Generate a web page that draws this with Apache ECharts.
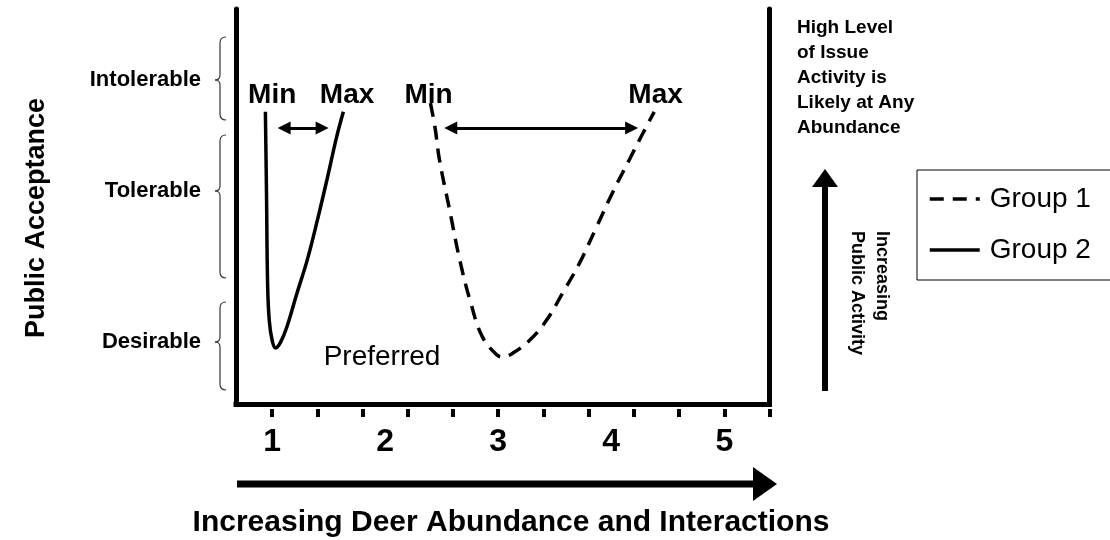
<!DOCTYPE html>
<html>
<head>
<meta charset="utf-8">
<script src="https://cdn.jsdelivr.net/npm/echarts@6/dist/echarts.min.js"></script>
<style>
  html, body { margin: 0; padding: 0; background: #fff; }
  #chart { width: 1110px; height: 540px; }
</style>
</head>
<body>
<div id="chart"></div>
<script>
var FONT = '"Liberation Sans", Arial, Helvetica, sans-serif';

// x = deer abundance (axis units), y = public acceptance (0 = bottom, 100 = top)
var group1 = [
    [2.40, 76.2], [2.44, 70.2], [2.48, 61.9], [2.57, 49.2], [2.66, 36.5],
    [2.75, 26.4], [2.86, 17.1], [2.99, 12.5], [3.04, 12.0], [3.13, 13.0],
    [3.28, 16.3], [3.43, 21.4], [3.57, 28.2], [3.72, 35.8], [3.87, 44.9],
    [4.01, 53.5], [4.16, 61.9], [4.28, 68.6], [4.38, 74.0]
];
var group2 = [
    [0.94, 74.0], [0.95, 53.0], [0.96, 30.0], [0.975, 21.0], [1.0, 16.2],
    [1.03, 14.3], [1.07, 15.5], [1.13, 19.6], [1.22, 28.2], [1.31, 36.5],
    [1.40, 46.6], [1.49, 57.5], [1.57, 67.6], [1.63, 74.0]
];

var tickValues = [1, 1.4, 1.8, 2.2, 2.6, 3, 3.4, 3.8, 4.2, 4.6, 5, 5.4];
var labelValues = [1, 2, 3, 4, 5];

// range arrows between Min and Max: [from, to, level]
var group1Range = [2.58, 4.18, 69.9];
var group2Range = [1.106, 1.442, 69.9];
var group1Labels = [['Min', 2.383, 78.2], ['Max', 4.392, 78.2]];
var group2Labels = [['Min', 1.0, 78.2], ['Max', 1.663, 78.2]];
var preferred = ['Preferred', 1.972, 12.0];

var acceptance = [['Intolerable', 37, 120, 80], ['Tolerable', 135, 278, 191], ['Desirable', 302, 390, 342]];
var issueText = 'High Level\nof Issue\nActivity is\nLikely at Any\nAbundance';

function rangeLine(r) {
    return {
        silent: true,
        symbol: ['triangle', 'triangle'],
        symbolSize: [13, 13],
        label: { show: false },
        lineStyle: { color: '#000', width: 3, type: 'solid' },
        emphasis: { disabled: true },
        data: [[{ coord: [r[0], r[2]] }, { coord: [r[1], r[2]] }]]
    };
}

function textPoints(list) {
    return {
        silent: true,
        symbol: 'rect',
        symbolSize: 1,
        itemStyle: { color: 'rgba(0,0,0,0)' },
        label: {
            show: true, position: 'inside', formatter: '{b}', color: '#000',
            fontFamily: FONT, fontSize: 28, fontWeight: 'bold'
        },
        data: list.map(function (d) {
            var item = { name: d[0], coord: [d[1], d[2]] };
            if (d[0] === 'Preferred') {
                item.label = { fontWeight: 'normal', fontSize: 28 };
            }
            return item;
        })
    };
}

// curly brace "{" made of curves and straight pieces
function brace(y0, y1, ym) {
    var x = 220, st = { fill: null, stroke: '#333', lineWidth: 1.2 };
    var parts = [
        { type: 'bezierCurve', shape: { x1: x + 6, y1: y0, cpx1: x, cpy1: y0, x2: x, y2: y0 + 6 } },
        { type: 'line', shape: { x1: x, y1: y0 + 6, x2: x, y2: ym - 5 } },
        { type: 'bezierCurve', shape: { x1: x, y1: ym - 5, cpx1: x, cpy1: ym, x2: x - 5, y2: ym } },
        { type: 'bezierCurve', shape: { x1: x - 5, y1: ym, cpx1: x, cpy1: ym, x2: x, y2: ym + 5 } },
        { type: 'line', shape: { x1: x, y1: ym + 5, x2: x, y2: y1 - 6 } },
        { type: 'bezierCurve', shape: { x1: x, y1: y1 - 6, cpx1: x, cpy1: y1, x2: x + 6, y2: y1 } }
    ];
    parts.forEach(function (p) { p.style = st; p.silent = true; });
    return { type: 'group', children: parts };
}

var graphics = [];
acceptance.forEach(function (a) {
    graphics.push(brace(a[1], a[2], a[3]));
    graphics.push({
        type: 'text', x: 201, y: a[3], silent: true,
        style: { text: a[0], fill: '#000', font: 'bold 22px ' + FONT, textAlign: 'right', textVerticalAlign: 'middle' }
    });
});
graphics.push(
    {
        type: 'text', x: 37, y: 218, rotation: Math.PI / 2, silent: true,
        style: { text: 'Public Acceptance', fill: '#000', font: 'bold 27px ' + FONT, textAlign: 'center', textVerticalAlign: 'middle' }
    },
    {
        type: 'text', x: 797, y: 15, silent: true,
        style: { text: issueText, fill: '#000', font: 'bold 19px ' + FONT, lineHeight: 25, textAlign: 'left', textVerticalAlign: 'top' }
    },
    {
        type: 'line', silent: true,
        shape: { x1: 825, y1: 391, x2: 825, y2: 184 },
        style: { stroke: '#000', lineWidth: 6 }
    },
    {
        type: 'polygon', silent: true,
        shape: { points: [[812, 187], [825, 169], [838, 187]] },
        style: { fill: '#000' }
    },
    {
        type: 'text', x: 869, y: 231, rotation: -Math.PI / 2, silent: true,
        style: { text: 'Increasing\nPublic Activity', fill: '#000', font: 'bold 18px ' + FONT, lineHeight: 25, textAlign: 'left', textVerticalAlign: 'middle' }
    },
    {
        type: 'line', silent: true,
        shape: { x1: 237, y1: 484, x2: 756, y2: 484 },
        style: { stroke: '#000', lineWidth: 7 }
    },
    {
        type: 'polygon', silent: true,
        shape: { points: [[753, 467], [777, 484], [753, 501]] },
        style: { fill: '#000' }
    },
    {
        type: 'text', x: 511, y: 523, silent: true,
        style: { text: 'Increasing Deer Abundance and Interactions', fill: '#000', font: 'bold 30px ' + FONT, textAlign: 'center', textVerticalAlign: 'middle' }
    }
);

var chart = echarts.init(document.getElementById('chart'));

var hiddenAxis = { axisTick: { show: false }, axisLabel: { show: false }, splitLine: { show: false } };

var option = {
    animation: false,
    backgroundColor: '#fff',
    grid: { left: 236, right: 340.5, top: 9, bottom: 135.5 },
    graphic: graphics,
    legend: {
        data: ['Group 1', 'Group 2'],
        orient: 'vertical',
        left: 917, top: 170,
        padding: [13, 30, 14, 11],
        itemGap: 19,
        itemWidth: 50, itemHeight: 14,
        selectedMode: false,
        borderColor: '#000', borderWidth: 1,
        itemStyle: { color: 'rgba(0,0,0,0)', borderWidth: 0 },
        lineStyle: { width: 3.5 },
        textStyle: { fontFamily: FONT, fontSize: 28, color: '#000', lineHeight: 32, padding: [0, 0, 0, 5] }
    },
    xAxis: [
        Object.assign({
            type: 'value', min: 0.68, max: 5.4,
            axisLine: { show: true, onZero: false, lineStyle: { color: '#000', width: 5, cap: 'square' } }
        }, hiddenAxis),
        {
            type: 'value', min: 0.68, max: 5.4, position: 'bottom', offset: 4.5,
            axisLine: { show: false, onZero: false },
            axisTick: { show: true, length: 8, customValues: tickValues, lineStyle: { color: '#000', width: 4 } },
            axisLabel: { customValues: labelValues, margin: 17, color: '#000', fontFamily: FONT, fontSize: 32, fontWeight: 'bold' },
            splitLine: { show: false }
        }
    ],
    yAxis: [
        Object.assign({
            type: 'value', min: 0, max: 100,
            axisLine: { show: true, onZero: false, lineStyle: { color: '#000', width: 5 } }
        }, hiddenAxis),
        Object.assign({
            type: 'value', min: 0, max: 100, position: 'right',
            axisLine: { show: true, onZero: false, lineStyle: { color: '#000', width: 5 } }
        }, hiddenAxis)
    ],
    series: [
        {
            name: 'Group 1', type: 'line', data: group1, smooth: 0.4, symbol: 'none',
            lineStyle: { color: '#000', width: 3.5, type: [14, 9] },
            itemStyle: { color: '#000' },
            markLine: rangeLine(group1Range),
            markPoint: textPoints(group1Labels.concat([preferred]))
        },
        {
            name: 'Group 2', type: 'line', data: group2, smooth: 0.4, symbol: 'none',
            lineStyle: { color: '#000', width: 3.5 },
            itemStyle: { color: '#000' },
            markLine: rangeLine(group2Range),
            markPoint: textPoints(group2Labels)
        }
    ]
};

chart.setOption(option);
</script>
</body>
</html>
